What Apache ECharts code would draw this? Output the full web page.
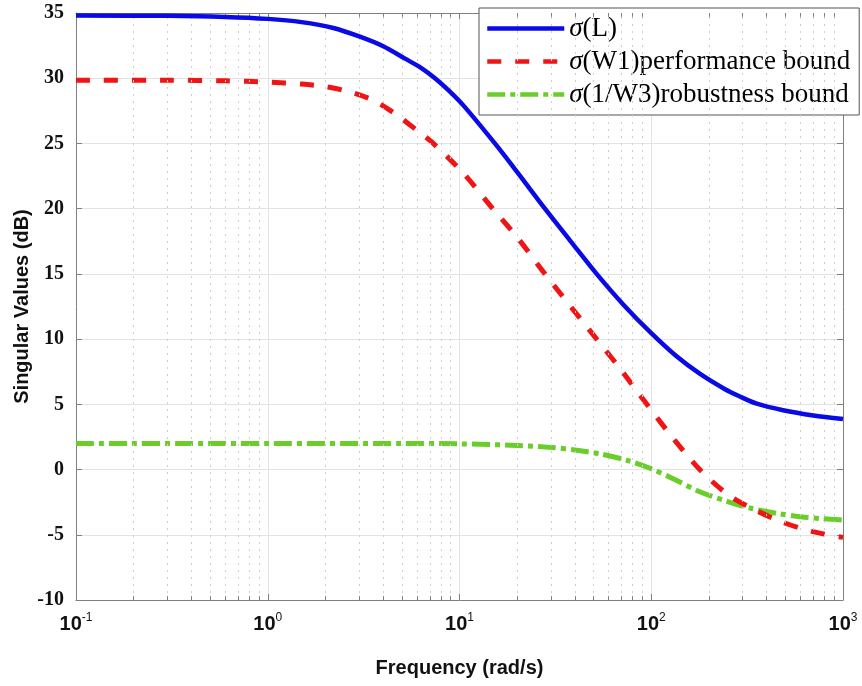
<!DOCTYPE html>
<html>
<head>
<meta charset="utf-8">
<script src="https://cdn.jsdelivr.net/npm/echarts@6/dist/echarts.min.js"></script>
<style>html,body{margin:0;padding:0;background:#fff}#c{width:862px;height:686px}</style>
</head>
<body>
<div id="c"></div>
<script>
// ---- data ----
const freqL  = [0.1, 0.3, 0.6, 1.0, 1.5, 2.2, 3.0, 4.0, 5.2, 6.3, 7.45, 8.8, 10.5, 15.3, 20, 27.9, 38, 51.9, 72, 98.5, 135, 179, 240, 290, 355, 487, 700, 1000];
const dbL    = [34.8, 34.78, 34.7, 34.55, 34.3, 33.85, 33.2, 32.45, 31.5, 30.8, 30.0, 29.05, 27.9, 25.0, 22.8, 20.0, 17.5, 15.0, 12.6, 10.55, 8.7, 7.35, 6.2, 5.6, 5.05, 4.55, 4.15, 3.87];

const freqW1 = [0.1, 0.3, 0.6, 1.0, 1.5, 2.0, 2.6, 3.5, 4.7, 6.0, 7.3, 10.5, 14.9, 20, 27.9, 38, 51.9, 70, 94.9, 130, 179, 250, 327, 450, 600, 800, 1000];
const dbW1   = [29.85, 29.85, 29.8, 29.7, 29.55, 29.35, 29.0, 28.35, 27.2, 26.0, 25.0, 22.7, 20.0, 17.8, 15.0, 12.5, 10.0, 7.6, 5.0, 2.4, 0.0, -1.9, -2.9, -3.85, -4.5, -4.95, -5.2];

const freqW3 = [0.1, 0.5, 1, 5, 10, 20, 29.7, 40, 54, 75, 98.5, 130, 179, 250, 327, 450, 601, 800, 1000];
const dbW3   = [2.0, 2.0, 2.0, 2.0, 1.97, 1.85, 1.7, 1.5, 1.2, 0.7, 0.1, -0.7, -1.7, -2.45, -2.95, -3.35, -3.62, -3.78, -3.87];

const seriesNames = ['σ(L)', 'σ(W1)performance bound', 'σ(1/W3)robustness bound'];
const minorFreqs = [0.2,0.3,0.4,0.5,0.6,0.7,0.8,0.9, 2,3,4,5,6,7,8,9, 20,30,40,50,60,70,80,90, 200,300,400,500,600,700,800,900];
const yMin = -10, yMax = 35, yStep = 5;
const xMin = 0.1, xMax = 1000;

// ---- build ----
const zip = (a, b) => a.map((v, i) => [v, b[i]]);
const axisColor = '#7f7f7f';

const minorGrid = minorFreqs.map(f => ({ xAxis: f }));
const minorTicks = [];
minorFreqs.forEach(f => {
  minorTicks.push([{ coord: [f, yMin] }, { coord: [f, yMin + 0.3] }]);
  minorTicks.push([{ coord: [f, yMax] }, { coord: [f, yMax - 0.3] }]);
});

const chart = echarts.init(document.getElementById('c'), null, { renderer: 'canvas' });
const option = {
  animation: false,
  backgroundColor: '#fff',
  grid: { left: 76, right: 19, top: 13, bottom: 86, containLabel: false },
  legend: {
    orient: 'vertical',
    left: 479, top: 8,
    padding: [7, 9, 7, 6],
    itemWidth: 77, itemHeight: 20, itemGap: 6,
    backgroundColor: '#fff',
    borderColor: '#555', borderWidth: 1, borderRadius: 0,
    data: seriesNames,
    itemStyle: { color: 'transparent', borderColor: 'transparent', borderWidth: 0, opacity: 0 },
    lineStyle: { width: 4.5 },
    formatter: n => '{s|σ}' + n.slice(1),
    textStyle: {
      fontFamily: 'Liberation Serif', fontSize: 27, color: '#000',
      rich: { s: { fontFamily: 'Liberation Serif', fontSize: 27, fontStyle: 'italic', color: '#000' } }
    }
  },
  xAxis: [{
    type: 'log', logBase: 10, min: xMin, max: xMax,
    name: 'Frequency (rad/s)', nameLocation: 'middle', nameGap: 58,
    nameTextStyle: { fontFamily: 'Liberation Sans', fontWeight: 'bold', fontSize: 20, color: '#111' },
    axisLine: { show: true, onZero: false, lineStyle: { color: axisColor, width: 1 } },
    axisTick: { show: true, inside: true, length: 6, lineStyle: { color: axisColor } },
    splitLine: { show: true, lineStyle: { color: '#e3e3e3', width: 1 } },
    axisLabel: {
      margin: 12,
      formatter: v => '{b|10}{e|' + Math.round(Math.log10(v)) + '}',
      rich: {
        b: { fontFamily: 'Liberation Sans', fontWeight: 'bold', fontSize: 20, color: '#111', lineHeight: 24 },
        e: { fontFamily: 'Liberation Sans', fontSize: 12, color: '#111', verticalAlign: 'top', lineHeight: 12 }
      }
    }
  }, {
    type: 'log', logBase: 10, min: xMin, max: xMax, position: 'top',
    axisLine: { show: true, onZero: false, lineStyle: { color: axisColor, width: 1 } },
    axisTick: { show: true, inside: true, length: 6, lineStyle: { color: axisColor } },
    axisLabel: { show: false }, splitLine: { show: false }
  }],
  yAxis: [{
    type: 'value', min: yMin, max: yMax, interval: yStep,
    name: 'Singular Values (dB)', nameLocation: 'middle', nameGap: 44, nameMoveOverlap: false,
    nameTextStyle: { fontFamily: 'Liberation Sans', fontWeight: 'bold', fontSize: 20, color: '#111' },
    axisLine: { show: true, onZero: false, lineStyle: { color: axisColor, width: 1 } },
    axisTick: { show: true, inside: true, length: 6, lineStyle: { color: axisColor } },
    splitLine: { show: true, lineStyle: { color: '#e3e3e3', width: 1 } },
    axisLabel: { margin: 12, fontFamily: 'Liberation Serif', fontWeight: 'bold', fontSize: 20, color: '#111' }
  }, {
    type: 'value', min: yMin, max: yMax, interval: yStep, position: 'right',
    axisLine: { show: true, onZero: false, lineStyle: { color: axisColor, width: 1 } },
    axisTick: { show: true, inside: true, length: 6, lineStyle: { color: axisColor } },
    axisLabel: { show: false }, splitLine: { show: false }
  }],
  series: [
    {
      name: 'minor', type: 'line', data: [], silent: true,
      markLine: {
        silent: true, symbol: 'none', animation: false, label: { show: false },
        lineStyle: { type: [2, 5], color: '#cfcfcf', width: 1 },
        data: minorGrid
      }
    },
    {
      name: 'minorTicks', type: 'line', data: [], silent: true,
      markLine: {
        silent: true, symbol: 'none', animation: false, label: { show: false },
        lineStyle: { type: 'solid', color: axisColor, width: 1 },
        data: minorTicks
      }
    },
    {
      name: seriesNames[0], type: 'line', data: zip(freqL, dbL),
      showSymbol: false, symbol: 'none', smooth: 0.3, z: 5,
      itemStyle: { color: '#0a0ae6' },
      lineStyle: { color: '#0a0ae6', width: 4.5 }
    },
    {
      name: seriesNames[1], type: 'line', data: zip(freqW1, dbW1),
      showSymbol: false, symbol: 'none', smooth: 0.3, z: 4,
      itemStyle: { color: '#f01414' },
      lineStyle: { color: '#f01414', width: 5, type: [14, 14] }
    },
    {
      name: seriesNames[2], type: 'line', data: zip(freqW3, dbW3),
      showSymbol: false, symbol: 'none', smooth: 0.3, z: 3,
      itemStyle: { color: '#6acd2a' },
      lineStyle: { color: '#6acd2a', width: 5, type: [18, 5, 5, 5] }
    }
  ]
};
chart.setOption(option);
</script>
</body>
</html>
